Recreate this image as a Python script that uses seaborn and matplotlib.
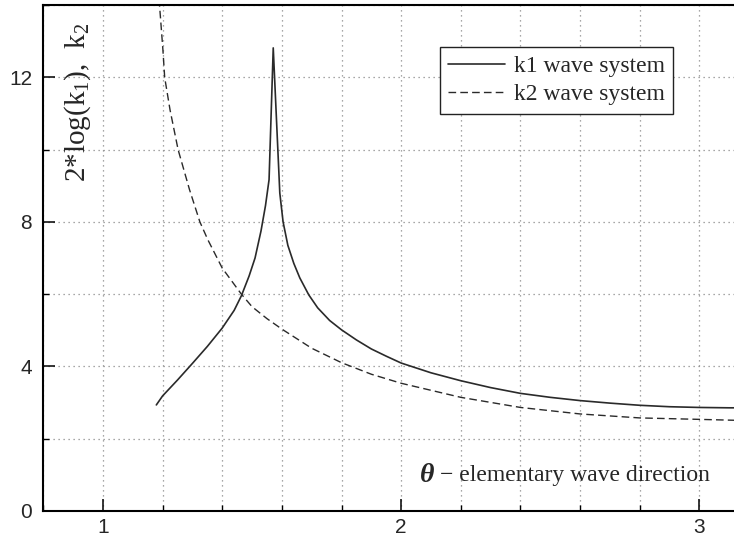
import numpy as np
import pandas as pd
import matplotlib
matplotlib.use("Agg")
import matplotlib.pyplot as plt
import seaborn as sns
from matplotlib.ticker import MultipleLocator

# k1 wave system
k1_theta = [1.179, 1.20, 1.25, 1.30, 1.35, 1.40, 1.44, 1.464, 1.49, 1.51,
            1.53, 1.545, 1.557, 1.571, 1.593, 1.604, 1.62, 1.64, 1.66, 1.69,
            1.72, 1.76, 1.80, 1.85, 1.90, 1.95, 2.0, 2.1, 2.2, 2.3, 2.4, 2.5,
            2.6, 2.7, 2.8, 2.9, 3.0, 3.1, 3.1416]
k1_val = [2.93, 3.18, 3.62, 4.08, 4.55, 5.06, 5.55, 5.95, 6.50, 7.00,
          7.75, 8.45, 9.17, 12.82, 8.80, 8.00, 7.35, 6.85, 6.45, 5.98,
          5.62, 5.27, 5.01, 4.73, 4.48, 4.28, 4.09, 3.82, 3.60, 3.41, 3.25, 3.14,
          3.05, 2.98, 2.92, 2.88, 2.86, 2.85, 2.85]

# k2 wave system
k2_theta = [1.187, 1.201, 1.207, 1.225, 1.252, 1.29, 1.325, 1.352, 1.40, 1.464,
            1.50, 1.55, 1.60, 1.70, 1.80, 1.90, 2.0, 2.2, 2.4, 2.6,
            2.8, 3.0, 3.1416]
k2_val = [14.3, 12.77, 12.0, 11.1, 10.0, 8.9, 8.0, 7.5, 6.72, 6.00,
          5.65, 5.32, 5.03, 4.50, 4.10, 3.78, 3.53, 3.14, 2.86, 2.68,
          2.57, 2.53, 2.50]

df1 = pd.DataFrame({"theta": k1_theta, "k": k1_val})
df2 = pd.DataFrame({"theta": k2_theta, "k": k2_val})

sns.set_style("ticks")
plt.rcParams["font.family"] = ["Liberation Sans", "DejaVu Sans"]
plt.rcParams["mathtext.fontset"] = "custom"
plt.rcParams["mathtext.rm"] = "Liberation Serif"
plt.rcParams["mathtext.it"] = "Liberation Serif:italic"

fig = plt.figure(figsize=(7.34, 5.44), dpi=100)
ax = fig.add_axes([0.059, 0.0612, 0.941, 0.9291])

sns.lineplot(data=df1, x="theta", y="k", ax=ax, estimator=None, sort=False,
             color="#2a2a2a", lw=1.2, label="k1 wave system")
sns.lineplot(data=df2, x="theta", y="k", ax=ax, estimator=None, sort=False,
             color="#2a2a2a", lw=1.0, linestyle=(0, (5.5, 3)),
             label="k2 wave system")

ax.set_xlim(0.8, 3.116)
ax.set_ylim(0, 14)
ax.xaxis.set_major_locator(MultipleLocator(1))
ax.xaxis.set_minor_locator(MultipleLocator(0.2))
ax.yaxis.set_major_locator(MultipleLocator(4))
ax.yaxis.set_minor_locator(MultipleLocator(2))
ax.grid(True, which="both", color="#8a8a8a", lw=0.9, linestyle=(0, (1, 3)))
ax.set_axisbelow(True)

ax.tick_params(which="major", direction="in", length=8.5, width=1.1,
               labelsize=15, color="black")
ax.tick_params(which="minor", direction="in", length=4.5, width=1.0,
               color="black")
ax.tick_params(axis="y", pad=8)
ax.tick_params(axis="x", pad=5)

for side in ["left", "bottom", "top"]:
    ax.spines[side].set_linewidth(1.5)
    ax.spines[side].set_color("black")
ax.spines["right"].set_visible(False)

ax.set_xlabel("")
ax.set_ylabel("")

ax.text(0.05, 0.807, "2*log(k$_1$),  k$_2$", rotation=90, ha="center",
        va="center", fontsize=21, family="Liberation Serif",
        transform=ax.transAxes)
ax.text(0.5555, 0.0706, "θ", ha="center", va="center", fontsize=20,
        family="Liberation Serif", style="italic", weight="bold",
        transform=ax.transAxes)
ax.text(0.574, 0.0706, "− elementary wave direction", ha="left",
        va="center", fontsize=17, family="Liberation Serif",
        transform=ax.transAxes)

leg = ax.legend(loc="upper right", bbox_to_anchor=(0.912, 0.9175),
                prop={"family": "Liberation Serif", "size": 17},
                frameon=True, fancybox=False, handlelength=2.4,
                handletextpad=0.4, borderpad=0.35, labelspacing=0.3,
                borderaxespad=0)
leg.get_frame().set_edgecolor("#222222")
leg.get_frame().set_linewidth(1.0)
leg.get_frame().set_alpha(1)

fig.savefig("out.png", dpi=100)
